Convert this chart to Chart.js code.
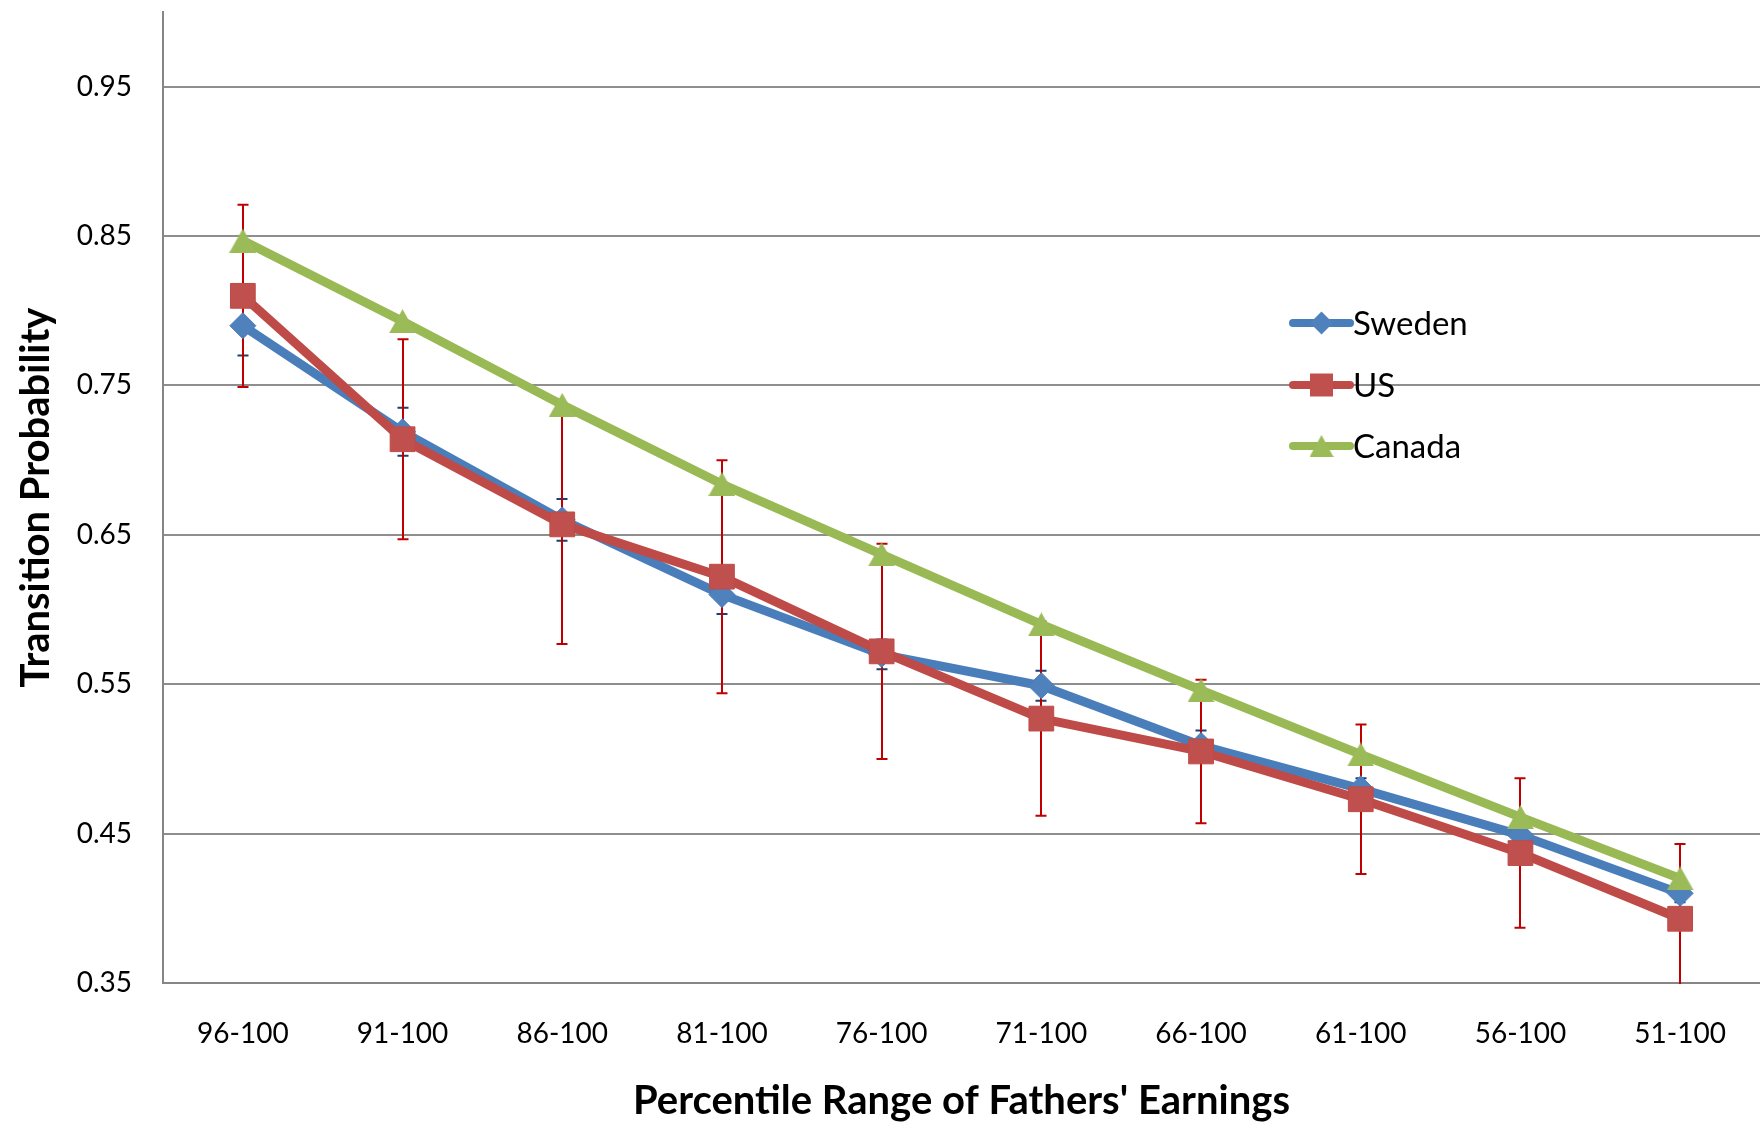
<!DOCTYPE html>
<html>
<head>
<meta charset="utf-8">
<title>Transition Probability by Percentile Range of Fathers' Earnings</title>
<script src="https://cdn.jsdelivr.net/npm/chart.js@4/dist/chart.umd.min.js"></script>
<style>
  html, body { margin: 0; padding: 0; background: #ffffff; }
  canvas { display: block; }
</style>
</head>
<body>
<canvas id="chart" width="1760" height="1124"></canvas>
<script>
// ---- data ----
const categories = ['96-100', '91-100', '86-100', '81-100', '76-100', '71-100', '66-100', '61-100', '56-100', '51-100'];
const seriesNames = ['Sweden', 'US', 'Canada'];
const swedenValues = [0.790, 0.719, 0.660, 0.610, 0.570, 0.549, 0.509, 0.480, 0.449, 0.410];
const usValues     = [0.810, 0.714, 0.657, 0.622, 0.572, 0.527, 0.505, 0.473, 0.437, 0.393];
const canadaValues = [0.847, 0.793, 0.737, 0.684, 0.637, 0.590, 0.546, 0.503, 0.461, 0.420];
// symmetric error-bar half widths
const swedenErrors = [0.020, 0.016, 0.014, 0.013, 0.010, 0.010, 0.010, 0.007, 0.006, 0.006];
const usErrors     = [0.061, 0.067, 0.080, 0.078, 0.072, 0.065, 0.048, 0.050, 0.050, 0.050];
const yTickValues  = [0.35, 0.45, 0.55, 0.65, 0.75, 0.85, 0.95];

const FONT = 'Lato, "Open Sans", "DejaVu Sans", sans-serif';

// triangle marker centred on its bounding box
function makeTriangle(w, h, fill) {
  const c = document.createElement('canvas');
  c.width = w; c.height = h;
  const g = c.getContext('2d');
  g.fillStyle = fill;
  g.beginPath();
  g.moveTo(w / 2, 0);
  g.lineTo(w, h);
  g.lineTo(0, h);
  g.closePath();
  g.fill();
  return c;
}
const triangleMarker = makeTriangle(27, 24, '#9BBB59');
const triangleLegend = makeTriangle(24, 22, '#9BBB59');

// vertical error bars with caps, drawn beneath the series lines
const errorBars = {
  id: 'errorBars',
  beforeDatasetsDraw(chart) {
    const { ctx, chartArea, scales: { x, y } } = chart;
    ctx.save();
    ctx.beginPath();
    ctx.rect(chartArea.left, chartArea.top, chartArea.right - chartArea.left, chartArea.bottom - chartArea.top + 1);
    ctx.clip();
    chart.data.datasets.forEach(ds => {
      if (!ds.errorValues) return;
      ctx.strokeStyle = ds.errorColor;
      ctx.lineWidth = 2;
      ds.data.forEach((v, i) => {
        const px = Math.round(x.getPixelForValue(i));
        const top = y.getPixelForValue(v + ds.errorValues[i]);
        const bot = y.getPixelForValue(v - ds.errorValues[i]);
        const cap = 5.5;
        ctx.beginPath();
        ctx.moveTo(px, top); ctx.lineTo(px, bot);
        ctx.moveTo(px - cap, top); ctx.lineTo(px + cap, top);
        ctx.moveTo(px - cap, bot); ctx.lineTo(px + cap, bot);
        ctx.stroke();
      });
    });
    ctx.restore();
  }
};

// legend entries showing a line segment with the series marker
const lineLegend = {
  id: 'lineLegend',
  afterDatasetsDraw(chart) {
    const { ctx } = chart;
    const x0 = 1293, x1 = 1350, textX = 1353;
    const rows = [323, 385, 446];
    ctx.save();
    chart.data.datasets.forEach((ds, i) => {
      const yy = rows[i];
      ctx.strokeStyle = ds.borderColor;
      ctx.lineWidth = 8;
      ctx.lineCap = 'round';
      ctx.beginPath();
      ctx.moveTo(x0, yy); ctx.lineTo(x1, yy);
      ctx.stroke();
      const mx = (x0 + x1) / 2;
      ctx.fillStyle = ds.pointBackgroundColor;
      ctx.beginPath();
      if (ds.legendMarker === 'diamond') {
        const r = 11.5;
        ctx.moveTo(mx - r, yy); ctx.lineTo(mx, yy - r); ctx.lineTo(mx + r, yy); ctx.lineTo(mx, yy + r);
        ctx.closePath(); ctx.fill();
      } else if (ds.legendMarker === 'square') {
        const s = 11.5;
        ctx.rect(mx - s, yy - s, 2 * s, 2 * s); ctx.fill();
      } else {
        ctx.drawImage(triangleLegend, mx - triangleLegend.width / 2, yy - triangleLegend.height / 2);
      }
      ctx.fillStyle = '#000000';
      ctx.font = '33px ' + FONT;
      ctx.textAlign = 'left';
      ctx.textBaseline = 'middle';
      ctx.fillText(ds.label, textX, yy + 1);
    });
    ctx.restore();
  }
};

const titleFont = { family: FONT, size: 40, weight: 'bold', lineHeight: 1 };
const tickFont = { family: FONT, size: 28 };

new Chart(document.getElementById('chart'), {
  type: 'line',
  data: {
    labels: categories,
    datasets: [
      {
        label: seriesNames[0],
        data: swedenValues,
        errorValues: swedenErrors,
        errorColor: '#1F3F72',
        legendMarker: 'diamond',
        borderColor: '#4A7EBB',
        backgroundColor: '#4F81BD',
        borderWidth: 9,
        borderJoinStyle: 'round',
        pointStyle: 'rectRot',
        pointRadius: 13,
        pointBorderWidth: 1,
        pointBackgroundColor: '#4F81BD',
        pointBorderColor: '#4A7EBB',
        order: 3
      },
      {
        label: seriesNames[1],
        data: usValues,
        errorValues: usErrors,
        errorColor: '#C00000',
        legendMarker: 'square',
        borderColor: '#BE4B48',
        backgroundColor: '#C0504D',
        borderWidth: 9,
        borderJoinStyle: 'round',
        pointStyle: 'rect',
        pointRadius: 17.5,
        pointBorderWidth: 1,
        pointBackgroundColor: '#C0504D',
        pointBorderColor: '#BE4B48',
        order: 2
      },
      {
        label: seriesNames[2],
        data: canadaValues,
        legendMarker: 'triangle',
        borderColor: '#98B954',
        backgroundColor: '#9BBB59',
        borderWidth: 9,
        borderJoinStyle: 'round',
        pointStyle: triangleMarker,
        pointRadius: 13,
        pointBorderWidth: 0,
        pointBackgroundColor: '#9BBB59',
        pointBorderColor: '#9BBB59',
        order: 1
      }
    ]
  },
  options: {
    responsive: false,
    devicePixelRatio: 1,
    animation: false,
    events: [],
    layout: { autoPadding: false, padding: { top: 12, left: 0, right: 0, bottom: 0 } },
    plugins: {
      legend: { display: false },
      tooltip: { enabled: false },
      title: { display: false }
    },
    elements: { line: { tension: 0 } },
    scales: {
      x: {
        type: 'category',
        offset: true,
        grid: { display: false, drawTicks: false },
        border: { display: true, color: '#868686', width: 2 },
        ticks: { color: '#000000', font: tickFont, padding: 34, maxRotation: 0, autoSkip: false },
        title: {
          display: true,
          text: "Percentile Range of Fathers' Earnings",
          color: '#000000',
          font: titleFont,
          padding: { top: 0, bottom: 3 }
        },
        afterFit(scale) {
          scale.height = 141;
          scale.paddingLeft = 0;
          scale.paddingRight = 0;
        }
      },
      y: {
        type: 'linear',
        min: 0.35,
        max: 1.0,
        afterBuildTicks(scale) {
          scale.ticks = yTickValues.map(v => ({ value: v }));
        },
        grid: { color: '#8E8E8E', lineWidth: 2, drawTicks: false },
        border: { display: true, color: '#868686', width: 2 },
        ticks: {
          color: '#000000',
          font: tickFont,
          padding: 31,
          callback: v => Number(v).toFixed(2)
        },
        title: {
          display: true,
          text: 'Transition Probability',
          color: '#000000',
          font: titleFont,
          padding: { top: 16, bottom: 0 }
        },
        afterFit(scale) {
          scale.width = 163;
          scale.paddingTop = 0;
          scale.paddingBottom = 0;
        }
      }
    }
  },
  plugins: [errorBars, lineLegend]
});
</script>
</body>
</html>
